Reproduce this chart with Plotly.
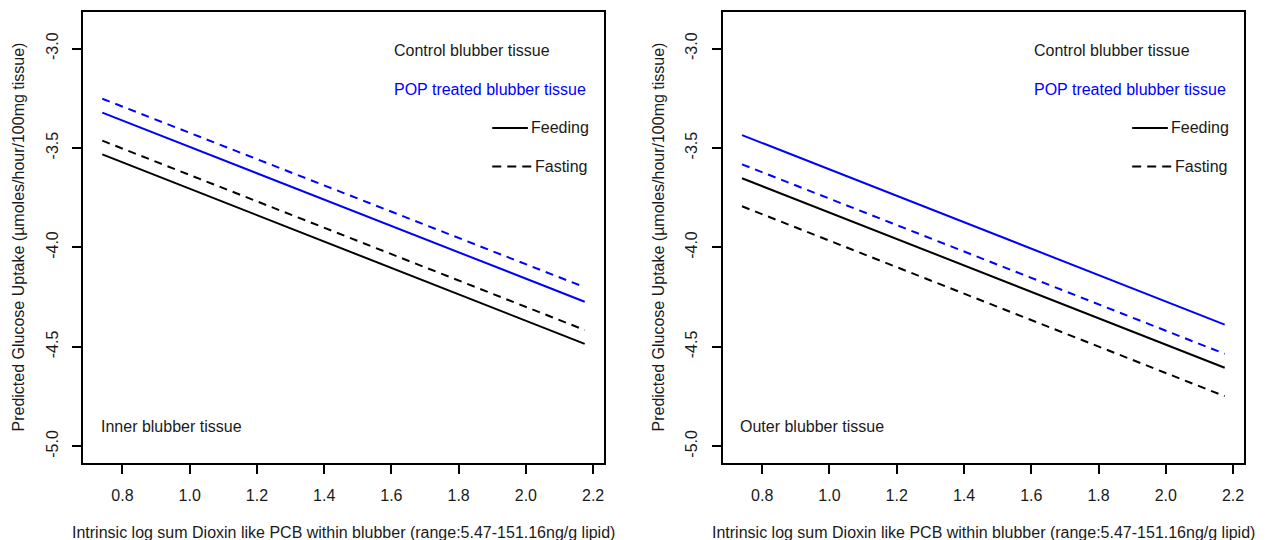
import plotly.graph_objects as go

# ---------------- data ----------------
x_ends = [0.74, 2.175]                      # range of log sum dioxin-like PCB used for predictions
series = ["Control Feeding", "Control Fasting", "POP Feeding", "POP Fasting"]
series_colors = ["black", "black", "blue", "blue"]
series_dash = ["solid", "8px,6px", "solid", "8px,6px"]

inner_start = [-3.532, -3.463, -3.322, -3.252]
inner_end = [-4.485, -4.415, -4.273, -4.200]
outer_start = [-3.652, -3.793, -3.435, -3.582]
outer_end = [-4.605, -4.748, -4.388, -4.535]

x_ticks = [0.8, 1.0, 1.2, 1.4, 1.6, 1.8, 2.0, 2.2]
x_ticklabels = ["0.8", "1.0", "1.2", "1.4", "1.6", "1.8", "2.0", "2.2"]
y_ticks = [-3.0, -3.5, -4.0, -4.5, -5.0]
y_ticklabels = ["-3.0", "-3.5", "-4.0", "-4.5", "-5.0"]

panel_labels = ["Inner blubber tissue", "Outer blubber tissue"]
x_title = "Intrinsic log sum Dioxin like PCB within blubber (range:5.47-151.16ng/g lipid)"
y_title = "Predicted Glucose Uptake (\u00b5moles/hour/100mg tissue)"

x_range = [0.6826, 2.2324]
y_range = [-5.084, -2.816]

FONT = "Liberation Sans, Arial, sans-serif"
TXT = "#1a1a1a"
FS = 16
W, H = 1275, 540
OFF = 8  # page body margin offset


def px_x(p):
    return (p - OFF) / W


def px_y(p):
    return 1 - (p - OFF) / H


fig = go.Figure()

panels = [(inner_start, inner_end, "x", "y"), (outer_start, outer_end, "x2", "y2")]
for starts, ends, xa, ya in panels:
    for name, s, e, c, d in zip(series, starts, ends, series_colors, series_dash):
        fig.add_trace(go.Scatter(
            x=x_ends, y=[s, e], mode="lines", name=name, xaxis=xa, yaxis=ya,
            line=dict(color=c, width=2, dash=d), showlegend=False, hoverinfo="skip"))

dom_x = [[px_x(83), px_x(604)], [px_x(722.7), px_x(1244)]]
dom_y = [px_y(463), px_y(12)]

axis_common = dict(showline=True, mirror=True, linecolor="black", linewidth=2,
                   ticks="outside", ticklen=9, tickwidth=2, tickcolor="black",
                   showgrid=False, zeroline=False,
                   tickfont=dict(family=FONT, size=FS, color=TXT))

layout = dict(
    width=W, height=H,
    margin=dict(l=0, r=0, t=0, b=0),
    paper_bgcolor="white", plot_bgcolor="white",
    showlegend=False,
    font=dict(family=FONT, size=FS, color=TXT),
)
for i in range(2):
    sx = "" if i == 0 else "2"
    layout["xaxis" + sx] = dict(axis_common, domain=dom_x[i], range=x_range,
                                tickvals=x_ticks, ticktext=x_ticklabels,
                                ticklabelstandoff=8, anchor="y" + sx)
    layout["yaxis" + sx] = dict(axis_common, domain=dom_y, range=y_range,
                                tickvals=y_ticks, ticktext=y_ticklabels,
                                ticklabelstandoff=8, tickangle=-90, anchor="x" + sx)
fig.update_layout(**layout)

annotations = []
shapes = []
for i in range(2):
    xr = "x" if i == 0 else "x2"
    yr = "y" if i == 0 else "y2"
    annotations.append(dict(x=1.601, y=-3.01, xref=xr, yref=yr, text="Control blubber tissue",
                            showarrow=False, xanchor="left", yanchor="middle",
                            font=dict(family=FONT, size=FS, color=TXT)))
    annotations.append(dict(x=1.601, y=-3.205, xref=xr, yref=yr, text="POP treated blubber tissue",
                            showarrow=False, xanchor="left", yanchor="middle",
                            font=dict(family=FONT, size=FS, color="blue")))
    annotations.append(dict(x=2.008, y=-3.399, xref=xr, yref=yr, text="Feeding",
                            showarrow=False, xanchor="left", yanchor="middle",
                            font=dict(family=FONT, size=FS, color=TXT)))
    annotations.append(dict(x=2.020, y=-3.593, xref=xr, yref=yr, text="Fasting",
                            showarrow=False, xanchor="left", yanchor="middle",
                            font=dict(family=FONT, size=FS, color=TXT)))
    annotations.append(dict(x=0.729, y=-4.90, xref=xr, yref=yr, text=panel_labels[i],
                            showarrow=False, xanchor="left", yanchor="middle",
                            font=dict(family=FONT, size=FS, color=TXT)))
    shapes.append(dict(type="line", xref=xr, yref=yr, x0=1.90, x1=2.006, y0=-3.399, y1=-3.399,
                       line=dict(color="black", width=2)))
    shapes.append(dict(type="line", xref=xr, yref=yr, x0=1.90, x1=2.019, y0=-3.593, y1=-3.593,
                       line=dict(color="black", width=2, dash="9px,6px")))
    # axis titles
    cx = (dom_x[i][0] + dom_x[i][1]) / 2
    annotations.append(dict(x=cx, y=px_y(532), xref="paper", yref="paper", text=x_title,
                            showarrow=False, xanchor="center", yanchor="middle",
                            font=dict(family=FONT, size=FS, color=TXT)))
    ty = (dom_y[0] + dom_y[1]) / 2
    tx = px_x(18 if i == 0 else 658)
    annotations.append(dict(x=tx, y=ty, xref="paper", yref="paper", text=y_title,
                            showarrow=False, xanchor="center", yanchor="middle", textangle=-90,
                            font=dict(family=FONT, size=FS, color=TXT)))

fig.update_layout(annotations=annotations, shapes=shapes)
fig.write_html("out.html")
